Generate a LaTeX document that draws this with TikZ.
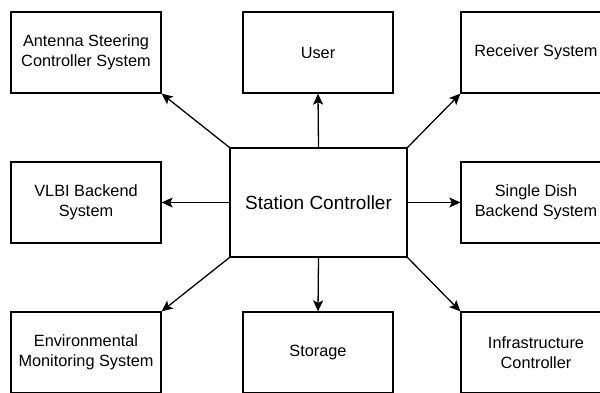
\documentclass[tikz,border=0pt]{standalone}
\usepackage{fontspec}
\setmainfont{Liberation Sans}
\usetikzlibrary{arrows.meta}

\begin{document}
\begin{tikzpicture}[x=1pt, y=-1pt,
	box/.style={draw, line width=1.3pt, minimum width=150pt, minimum height=81pt, align=center, inner sep=0pt, font=\fontsize{16.3}{20}\selectfont},
	hub/.style={box, minimum width=177pt, minimum height=109pt, font=\fontsize{19}{23}\selectfont},
	arr/.style={line width=1.3pt, -{Stealth[length=11pt, width=10pt, inset=2.5pt]}}]
	\useasboundingbox (0,0) rectangle (600,392);
	\clip (0,0) rectangle (600,392);
	% centre box
	\node[hub] (sc) at (318.5,202.5) {Station Controller};
	% outer boxes
	\node[box] (asc) at (86,52.5) {Antenna Steering\\Controller System};
	\node[box] (usr) at (318,52.5) {User};
	\node[box] (rcv) at (536,52.5) {Receiver System};
	\node[box] (vlbi) at (86,202.5) {VLBI Backend\\System};
	\node[box] (sdb) at (536,202.5) {Single Dish\\Backend System};
	\node[box] (ems) at (86,352.5) {Environmental\\Monitoring System};
	\node[box] (sto) at (318,352.5) {Storage};
	\node[box] (ifc) at (536,352.5) {Infrastructure\\Controller};
	% connectors
	\draw[arr] (sc.north west) -- (asc.south east);
	\draw[arr] (sc.north) -- (usr.south);
	\draw[arr] (sc.north east) -- (rcv.south west);
	\draw[arr] (sc.west) -- (vlbi.east);
	\draw[arr] (sc.east) -- (sdb.west);
	\draw[arr] (sc.south west) -- (ems.north east);
	\draw[arr] (sc.south) -- (sto.north);
	\draw[arr] (sc.south east) -- (ifc.north west);
\end{tikzpicture}
\end{document}
